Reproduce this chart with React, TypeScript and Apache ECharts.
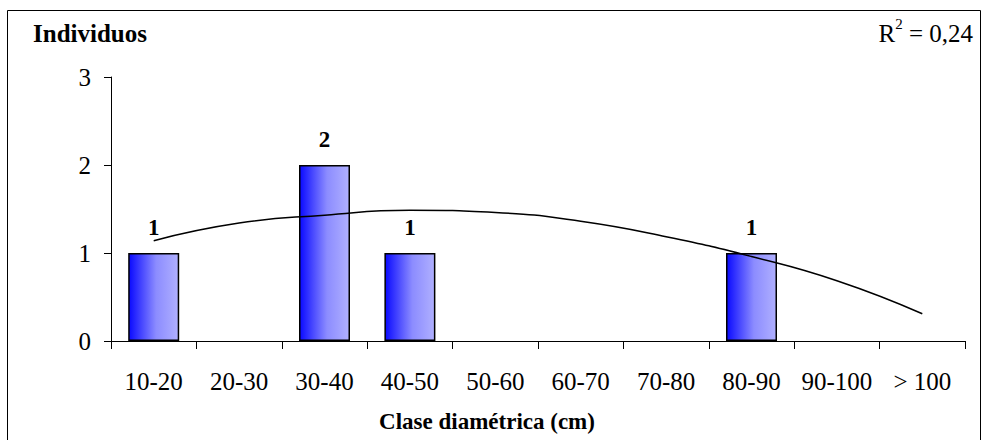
import React, { useEffect, useRef } from "react";
import * as echarts from "echarts";

const categories = ["10-20", "20-30", "30-40", "40-50", "50-60", "60-70", "70-80", "80-90", "90-100", "> 100"];
const individuos = [1, 0, 2, 1, 0, 0, 0, 1, 0, 0];
const trend = [1.14, 1.34, 1.43, 1.485, 1.46, 1.36, 1.185, 0.96, 0.685, 0.31];
const yTicks = [0, 1, 2, 3];

const FONT = "Liberation Serif";

export default function App() {
  const ref = useRef<HTMLDivElement>(null);
  useEffect(() => {
    if (!ref.current) return;
    const chart = echarts.init(ref.current, undefined, { renderer: "svg" });
    chart.setOption({
      animation: false,
      backgroundColor: "#ffffff",
      textStyle: { fontFamily: FONT },
      grid: { left: 111, right: 17, top: 77, bottom: 99 },
      graphic: [
        {
          type: "rect",
          shape: { x: 7.5, y: 10.5, width: 973, height: 440 },
          style: { fill: "none", stroke: "#000", lineWidth: 1 },
          silent: true,
        },
        {
          type: "text",
          left: 33,
          top: 21,
          style: { text: "Individuos", fontFamily: FONT, fontWeight: "bold", fontSize: 25, fill: "#000" },
        },
        {
          type: "text",
          right: 9,
          top: 16,
          style: {
            text: "{a|R}{s|2}{a| = 0,24}",
            rich: {
              a: { fontFamily: FONT, fontSize: 25, fill: "#000", verticalAlign: "bottom", lineHeight: 30 },
              s: { fontFamily: FONT, fontSize: 15, fill: "#000", verticalAlign: "top", lineHeight: 30, padding: [0, 0, 12, 0] },
            },
          },
        },
        {
          type: "text",
          x: 487,
          y: 421,
          style: {
            text: "Clase diamétrica (cm)",
            fontFamily: FONT,
            fontWeight: "bold",
            fontSize: 23,
            fill: "#000",
            align: "center",
            verticalAlign: "middle",
          },
        },
      ],
      xAxis: {
        type: "category",
        data: categories,
        boundaryGap: true,
        axisLine: { lineStyle: { color: "#000", width: 1 } },
        axisTick: { show: true, alignWithLabel: false, length: 8, lineStyle: { color: "#000" } },
        axisLabel: { fontFamily: FONT, fontSize: 25, color: "#000", margin: 28, interval: 0 },
        splitLine: { show: false },
      },
      yAxis: {
        type: "value",
        min: yTicks[0],
        max: yTicks[yTicks.length - 1],
        interval: 1,
        axisLine: { show: true, lineStyle: { color: "#000", width: 1 } },
        axisTick: { show: true, length: 7, lineStyle: { color: "#000" } },
        axisLabel: { fontFamily: FONT, fontSize: 25, color: "#000", margin: 20 },
        splitLine: { show: false },
      },
      series: [
        {
          type: "bar",
          data: individuos.map((v) => (v === 0 ? null : v)),
          barWidth: 51,
          itemStyle: {
            color: new echarts.graphic.LinearGradient(0, 0, 1, 0, [
              { offset: 0, color: "#0a0aff" },
              { offset: 0.55, color: "#8c8cff" },
              { offset: 1, color: "#b0b0ff" },
            ]),
            borderColor: "#000",
            borderWidth: 1.5,
          },
          label: {
            show: true,
            position: "top",
            distance: 14,
            fontFamily: FONT,
            fontWeight: "bold",
            fontSize: 23,
            color: "#000",
          },
          z: 2,
        },
        {
          type: "line",
          data: trend,
          smooth: true,
          symbol: "none",
          lineStyle: { color: "#000", width: 1.5 },
          z: 3,
        },
      ],
    });
    return () => chart.dispose();
  }, []);
  return (
    <div
      ref={ref}
      style={{ position: "fixed", left: 0, top: 0, width: 982, height: 440 }}
    />
  );
}
